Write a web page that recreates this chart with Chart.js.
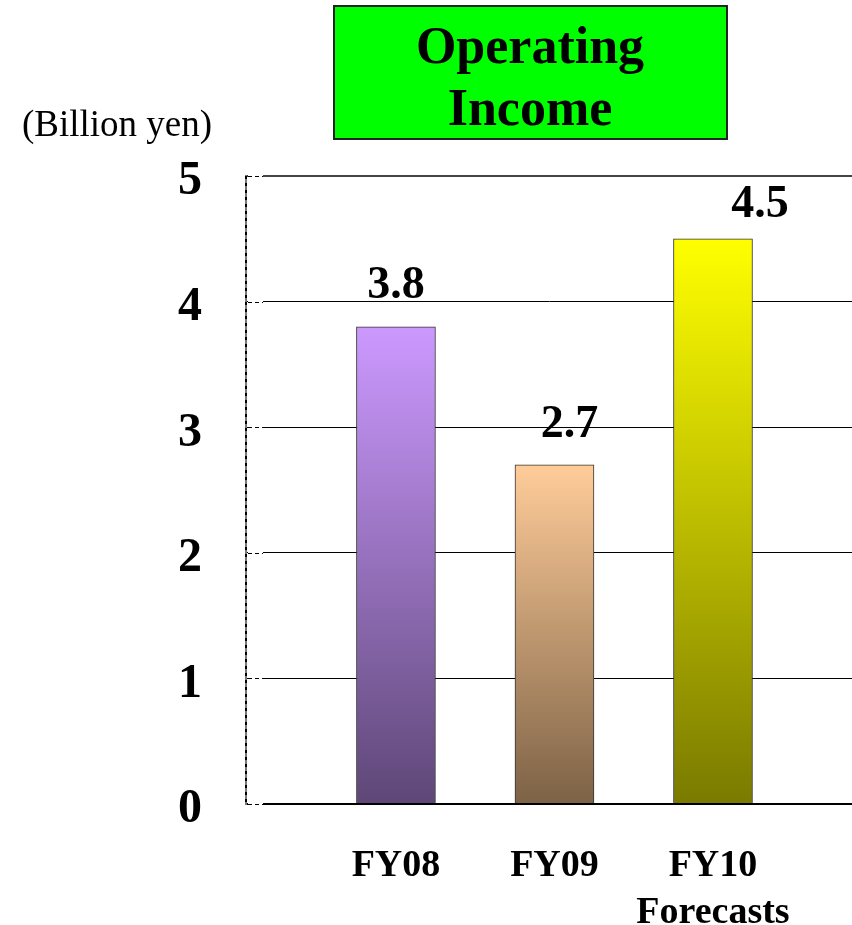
<!DOCTYPE html>
<html>
<head>
<meta charset="utf-8">
<title>Operating Income</title>
<script src="https://cdn.jsdelivr.net/npm/chart.js@4.4.1/dist/chart.umd.min.js"></script>
<style>
  html, body { margin: 0; padding: 0; background: #fff; }
  canvas { display: block; }
</style>
</head>
<body>
<canvas id="income" width="852" height="925"></canvas>
<script>
// Operating income, billion yen
const periods = ['FY08', 'FY09', ['FY10', 'Forecasts']]
const positions = [1, 2, 3]
const income = [3.8, 2.7, 4.5]
const yTicks = [0, 1, 2, 3, 4, 5]

// top / bottom colour of each bar's gradient
const barTop = ['#CC99FF', '#FFCC99', '#FFFF00']
const barBottom = ['#5E4777', '#7D6246', '#7A7A00']

const serif = '"Liberation Serif", "Times New Roman", serif'

function barFill(ctx) {
    const chart = ctx.chart
    if (!chart.chartArea || ctx.type !== 'data') return barTop[0]
    const i = ctx.dataIndex
    const y = chart.scales.y
    const g = chart.ctx.createLinearGradient(0, y.getPixelForValue(income[i]), 0, y.getPixelForValue(0))
    g.addColorStop(0, barTop[i])
    g.addColorStop(1, barBottom[i])
    return g
}

// green title box + unit caption
const headerBox = {
    id: 'headerBox',
    beforeDraw(chart) {
        const c = chart.ctx
        c.save()
        c.fillStyle = '#00FF00'
        c.fillRect(334, 6, 393, 133)
        c.lineWidth = 2
        c.strokeStyle = '#222'
        c.strokeRect(334, 6, 393, 133)
        c.fillStyle = '#000'
        c.textAlign = 'center'
        c.textBaseline = 'alphabetic'
        c.font = 'bold 52px ' + serif
        c.fillText('Operating', 530, 63)
        c.fillText('Income', 530, 125)
        c.font = '37px ' + serif
        c.textAlign = 'left'
        c.fillText('(Billion yen)', 22, 136)
        c.restore()
    }
}

// dotted left axis and the short dashed stubs where grid lines meet it
const axisDots = {
    id: 'axisDots',
    afterDatasetsDraw(chart) {
        const c = chart.ctx
        const a = chart.chartArea
        const y = chart.scales.y
        c.save()
        c.strokeStyle = '#000'
        c.lineWidth = 2
        c.setLineDash([3, 4])
        c.beginPath()
        c.moveTo(a.left, a.top)
        c.lineTo(a.left, a.bottom)
        c.stroke()
        yTicks.forEach(v => {
            const py = Math.round(y.getPixelForValue(v)) + 0.5
            c.setLineDash([])
            c.strokeStyle = '#fff'
            c.lineWidth = 3
            c.beginPath()
            c.moveTo(a.left + 2, py)
            c.lineTo(a.left + 17, py)
            c.stroke()
            c.setLineDash([4, 3])
            c.strokeStyle = '#000'
            c.lineWidth = 1
            c.beginPath()
            c.moveTo(a.left + 2, py)
            c.lineTo(a.left + 17, py)
            c.stroke()
        })
        c.restore()
    }
}

// value over each bar
const valueLabels = {
    id: 'valueLabels',
    afterDatasetsDraw(chart, args, opts) {
        const c = chart.ctx
        const meta = chart.getDatasetMeta(0)
        c.save()
        c.font = 'bold 46px ' + serif
        c.fillStyle = '#000'
        c.textAlign = 'center'
        c.textBaseline = 'alphabetic'
        meta.data.forEach((bar, i) => {
            c.fillText(income[i].toFixed(1), bar.x + opts.dx[i], bar.y - opts.gap[i])
        })
        c.restore()
    }
}

new Chart(document.getElementById('income'), {
    type: 'bar',
    data: {
        datasets: [{
            data: positions.map((x, i) => ({ x: x, y: income[i] })),
            backgroundColor: barFill,
            borderColor: '#333',
            borderWidth: 1,
            barThickness: 79
        }]
    },
    options: {
        responsive: false,
        animation: false,
        layout: { padding: { top: 176, left: 0, right: 0, bottom: 0 } },
        plugins: {
            legend: { display: false },
            title: { display: false },
            tooltip: { enabled: false },
            valueLabels: { dx: [0, 15, 47], gap: [29, 28, 22] }
        },
        scales: {
            x: {
                type: 'linear',
                offset: false,
                min: 0.054,
                max: 3.877,
                afterBuildTicks: s => { s.ticks = positions.map(v => ({ value: v })) },
                afterFit: s => { s.height = 121 },
                grid: { display: false, drawTicks: false },
                border: { display: true, color: '#000', width: 2 },
                ticks: {
                    callback: v => periods[positions.indexOf(v)],
                    font: { family: serif, size: 38, weight: 'bold', lineHeight: 1.24 },
                    color: '#000',
                    padding: 39,
                    maxRotation: 0,
                    autoSkip: false
                }
            },
            y: {
                min: 0,
                max: 5,
                afterBuildTicks: s => { s.ticks = yTicks.map(v => ({ value: v })) },
                afterFit: s => { s.width = 246 },
                grid: {
                    color: c => c.tick && c.tick.value === 5 ? '#444' : '#000',
                    lineWidth: c => c.tick && (c.tick.value === 5 || c.tick.value === 0) ? 2 : 1,
                    drawTicks: false
                },
                border: { display: true, color: '#777', width: 2 },
                ticks: {
                    font: { family: serif, size: 48, weight: 'bold' },
                    color: '#000',
                    padding: 44,
                    labelOffset: 6
                }
            }
        }
    },
    plugins: [headerBox, axisDots, valueLabels]
})
</script>
</body>
</html>
